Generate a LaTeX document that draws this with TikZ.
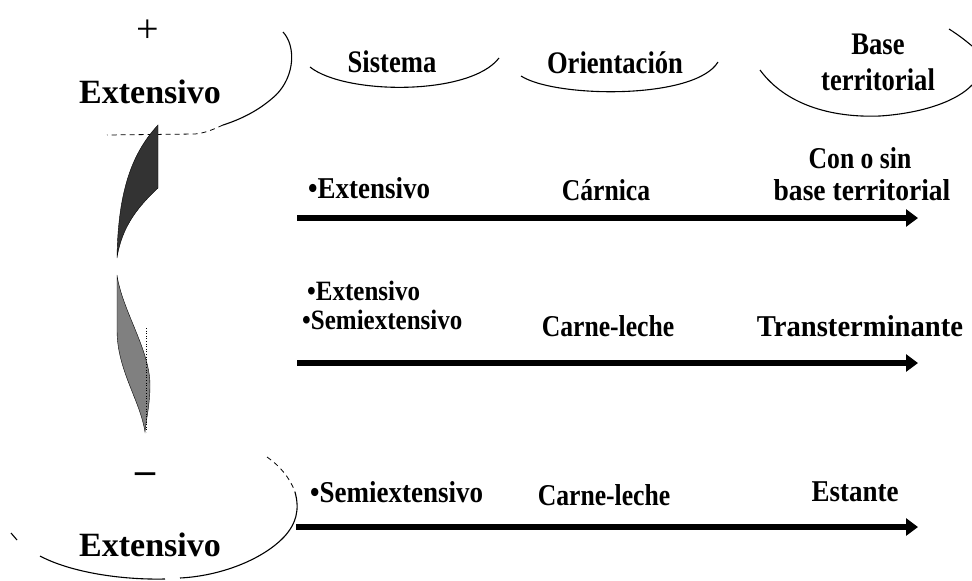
\documentclass[tikz,border=0pt]{standalone}
\usepackage{fontspec}
\setmainfont{Liberation Serif}
\usetikzlibrary{arrows.meta}
\newcommand{\tallbox}[2][1]{\scalebox{#1}[1.12]{#2}}
\begin{document}
\begin{tikzpicture}[x=1pt,y=-1pt,
  lbl/.style={font=\bfseries\fontsize{27}{30}\selectfont, inner sep=0pt},
  lblb/.style={font=\bfseries\fontsize{25}{28}\selectfont, inner sep=0pt},
  head/.style={font=\bfseries\fontsize{28}{30}\selectfont, inner sep=0pt},
  big/.style={font=\bfseries\fontsize{34}{38}\selectfont, inner sep=0pt},
  sign/.style={font=\fontsize{40}{40}\selectfont, inner sep=0pt},
  bigarrow/.style={line width=5.5pt, -{Triangle[length=12pt,width=17pt]}},
  curve/.style={line width=1.1pt},
  faint/.style={line width=0.8pt, dash pattern=on 5pt off 4pt}]
\useasboundingbox (0,0) rectangle (972,581);

% top-left group
\node[sign] (plus) at (148,31) {+};
\node[big] (ext1) at (150,92) {Extensivo};
\draw[curve] (283,32) .. controls (296,46) and (295,76) .. (276,95)
  .. controls (262,108) and (245,118) .. (223,125);
\draw[faint] (223,125) .. controls (212,130) and (205,133) .. (195,134) -- (107,135);

% column headers
\node[head] (sis) at (392,62) {\tallbox[0.95]{Sistema}};
\draw[curve] (310,67) .. controls (345,95) and (470,96) .. (499,58);
\node[head] (ori) at (615,63) {\tallbox[0.95]{Orientación}};
\draw[curve] (521,76) .. controls (555,98) and (695,100) .. (718,62);
\node[head] (base1) at (878,44) {\tallbox[0.95]{Base}};
\node[head] (base2) at (878,80) {\tallbox[0.95]{territorial}};
\draw[curve] (760,70) .. controls (785,104) and (830,118) .. (880,116)
  .. controls (925,113) and (958,100) .. (972,85);
\draw[curve] (949,29) .. controls (957,34) and (965,40) .. (972,46);

% leaves
\draw[fill=black!80] (158,125) -- (158,188) .. controls (140,205) and (122,225) .. (117,258)
  .. controls (118,185) and (135,150) .. (158,125) -- cycle;
\draw[fill=black!50] (117,275) .. controls (122,310) and (150,350) .. (150,385)
  .. controls (150,405) and (146,420) .. (145,432)
  .. controls (140,400) and (117,370) .. (117,330) -- cycle;
\draw[line width=0.6pt, dotted] (146,328) -- (146,432);

% row 1
\node[lbl, anchor=west] (r1s) at (308,188) {\tallbox{•Extensivo}};
\node[lbl] (r1o) at (606,190) {\tallbox[0.95]{Cárnica}};
\node[lbl] (r1b1) at (860,158) {\tallbox[0.95]{Con o sin}};
\node[lbl] (r1b2) at (862,190) {\tallbox[1.02]{base territorial}};
\coordinate (a1s) at (297,218);
\coordinate (a1e) at (918,218);
\draw[bigarrow] (a1s) -- (a1e);

% row 2
\node[lblb, anchor=west] (r2s1) at (307,291) {\tallbox{•Extensivo}};
\node[lblb, anchor=west] (r2s2) at (302,320) {\tallbox{•Semiextensivo}};
\node[lbl] (r2o) at (608,326) {\tallbox[0.95]{Carne-leche}};
\node[lbl] (r2b) at (860,326) {\tallbox[1.06]{Transterminante}};
\coordinate (a2s) at (297,363);
\coordinate (a2e) at (918,363);
\draw[bigarrow] (a2s) -- (a2e);

% row 3
\node[lbl, anchor=west] (r3s) at (310,492) {\tallbox{•Semiextensivo}};
\node[lbl] (r3o) at (604,495) {\tallbox[0.95]{Carne-leche}};
\node[lbl] (r3b) at (855,492) {\tallbox{Estante}};
\coordinate (a3s) at (296,527);
\coordinate (a3e) at (918,527);
\draw[bigarrow] (a3s) -- (a3e);

% bottom-left group
\node[font=\bfseries\fontsize{40}{40}\selectfont, inner sep=0pt] (minus) at (145,478) {–};
\node[big] (ext2) at (150,545) {Extensivo};
\draw[faint] (267,457) .. controls (280,466) and (290,478) .. (295,492);
\draw[curve] (295,492) .. controls (300,510) and (296,524) .. (284,537)
  .. controls (262,560) and (220,576) .. (180,578);
\draw[curve] (165,579) .. controls (120,580) and (70,572) .. (40,556);
\draw[curve] (11,533) -- (17,540);
\end{tikzpicture}
\end{document}
